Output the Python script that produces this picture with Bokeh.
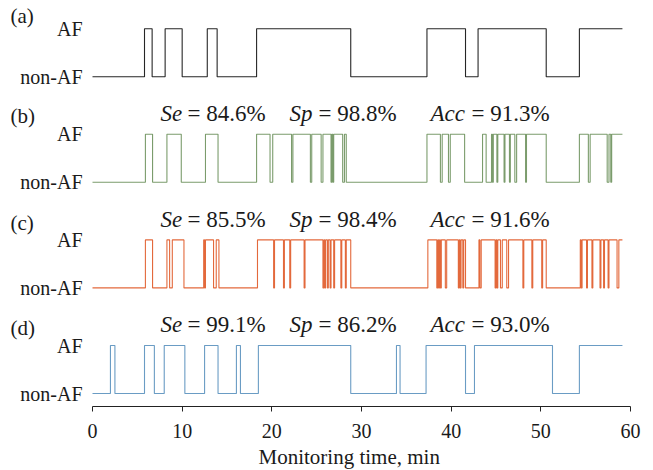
from bokeh.plotting import figure
from bokeh.models import Range1d, FixedTicker, ColumnDataSource, Title
from bokeh.core.properties import value
from bokeh.embed import file_html
from bokeh.resources import INLINE

# ---------------- data ----------------
end_time = 59.1
panel_names = ["(a)", "(b)", "(c)", "(d)"]
state_labels = ["non-AF", "AF"]
x_ticks = [0, 10, 20, 30, 40, 50, 60]
x_title = "Monitoring time, min"

# AF episodes (start, end) in minutes
af_a = [(5.8, 6.65), (8.1, 10.0), (12.8, 13.9), (18.3, 28.8), (37.3, 41.6),
        (43.0, 50.6), (54.3, 59.1)]
af_b = [(5.9, 6.7), (8.3, 9.9), (12.6, 14.0), (18.3, 19.8), (20.1, 22.2),
        (22.35, 24.3), (24.45, 25.5), (25.7, 26.6), (26.7, 26.8), (26.9, 27.9),
        (28.1, 28.3), (37.3, 38.8), (39.0, 39.7), (39.9, 41.5), (43.5, 43.9),
        (44.5, 44.6), (44.7, 45.1), (45.2, 45.9), (46.0, 46.5), (46.6, 47.1),
        (47.3, 48.3), (48.4, 50.6), (54.3, 55.3), (55.5, 57.4), (57.6, 57.8),
        (57.9, 59.1)]
af_c = [(5.9, 6.7), (8.3, 8.6), (8.9, 10.2), (12.4, 12.5), (12.6, 13.5),
        (13.8, 14.1), (18.4, 20.2), (20.3, 21.3), (21.4, 22.0), (22.1, 23.6),
        (23.7, 25.7), (25.8, 25.9), (26.0, 26.2), (26.3, 26.5), (26.6, 26.9),
        (27.0, 27.7), (27.8, 28.2), (28.3, 28.8), (37.4, 38.4), (38.5, 38.6),
        (38.7, 38.8), (38.9, 39.35), (39.5, 40.8), (40.9, 41.0), (41.1, 41.3),
        (41.4, 41.6), (43.1, 43.2), (43.35, 44.9), (45.0, 45.1), (45.2, 45.5),
        (45.7, 46.2), (46.4, 48.0), (48.1, 49.0), (49.1, 50.1), (50.2, 50.6),
        (54.4, 54.5), (54.6, 55.1), (55.2, 55.7), (55.8, 56.6), (56.7, 57.0),
        (57.1, 57.5), (57.6, 58.5), (58.7, 59.1)]
af_d = [(2.0, 2.5), (5.8, 6.9), (8.0, 10.3), (12.5, 14.0), (16.05, 16.5),
        (18.5, 28.8), (33.9, 34.3), (37.2, 41.6), (42.6, 51.3), (54.3, 59.1)]

se = [84.6, 85.5, 99.1]
sp = [98.8, 98.4, 86.2]
acc = [91.3, 91.6, 93.0]

# ---------------- style / layout ----------------
colors = ["#262626", "#7b9c6c", "#e3693c", "#6a9cc4"]
FONT = "Liberation Serif"
TXT = "#1a1a1a"
LEVEL = 10          # AF level above non-AF
STEP = 22           # vertical distance between panels
PX_PER_UNIT = 4.8
W, H = 653, 470
frame_left_px = 92
frame_right_px = 630
px_per_min = (frame_right_px - frame_left_px) / 60.0
x_start = -frame_left_px / px_per_min
frame_bottom_px = 406
y0 = -(frame_bottom_px - 393) / PX_PER_UNIT
y1 = y0 + frame_bottom_px / PX_PER_UNIT

p = figure(width=W, height=H, output_backend="svg", toolbar_location=None,
           x_range=Range1d(x_start, 60), y_range=Range1d(y0, y1),
           min_border_left=0, min_border_right=W - frame_right_px,
           min_border_top=0, min_border_bottom=H - frame_bottom_px)
p.outline_line_color = None
p.xgrid.visible = False
p.ygrid.visible = False
p.yaxis.visible = False
p.background_fill_color = "white"
p.border_fill_color = "white"


def step_xy(intervals, base):
    xs, ys = [0.0], [base]
    for s, e in intervals:
        xs += [s, s, e, e]
        ys += [base, base + LEVEL, base + LEVEL, base]
    if intervals and intervals[-1][1] >= end_time:
        xs = xs[:-1]
        ys = ys[:-1]
    else:
        xs.append(end_time)
        ys.append(base)
    return xs, ys


all_af = [af_a, af_b, af_c, af_d]
bases = [(3 - i) * STEP for i in range(4)]
for i, (ivs, base) in enumerate(zip(all_af, bases)):
    xs, ys = step_xy(ivs, base)
    p.line(xs, ys, line_color=colors[i], line_width=1.1)

# state labels (AF / non-AF) to the left of each trace
lab_x = -10 / px_per_min
st_src = ColumnDataSource(dict(
    x=[lab_x] * 8,
    y=[b + lv for b in bases for lv in (0, LEVEL)],
    t=[state_labels[k] for _ in bases for k in (0, 1)]))
p.text("x", "y", text="t", source=st_src, text_font=value(FONT),
       text_font_size="20px", text_align="right", text_baseline="middle",
       text_color=TXT)

# panel letters
panel_dy = [2.75, 3.9, 3.6, 3.75]
pl_x = (10 - frame_left_px) / px_per_min
p.text([pl_x] * 4, [bases[i] + LEVEL + panel_dy[i] for i in range(4)],
       text=panel_names, text_font=value(FONT), text_font_size="21px",
       text_align="left", text_baseline="middle", text_color=TXT)

# metrics
metric_x = [(160 - frame_left_px) / px_per_min,
            (289 - frame_left_px) / px_per_min,
            (430 - frame_left_px) / px_per_min]
metric_off = [27, 29, 41]
names = ["Se", "Sp", "Acc"]
for j in range(3):
    yy = bases[j + 1] + LEVEL + 4.3
    vals = [se[j], sp[j], acc[j]]
    p.text(metric_x, [yy] * 3, text=names, text_font=value(FONT),
           text_font_size="23px", text_font_style="italic",
           text_baseline="middle", text_color=TXT)
    p.text(metric_x, [yy] * 3, text=[f"= {v:.1f}%" for v in vals],
           x_offset=metric_off, text_font=value(FONT),
           text_font_size="23px", text_baseline="middle", text_color=TXT)

# x axis
p.xaxis.bounds = (0, 60)
p.xaxis.ticker = FixedTicker(ticks=x_ticks)
p.xaxis.minor_tick_line_color = None
p.xaxis.major_tick_in = 0
p.xaxis.major_tick_out = 5
p.xaxis.axis_line_color = "#222222"
p.xaxis.major_tick_line_color = "#222222"
p.xaxis.major_label_standoff = 12
p.xaxis.major_label_text_font = FONT
p.xaxis.major_label_text_font_size = "20px"
p.xaxis.major_label_text_color = TXT

# axis title: starts at x = 258 px, as in the reference
title_left_px = 258
p.add_layout(Title(text=x_title, align="left", offset=title_left_px,
                   text_font=FONT, text_font_size="21px",
                   text_font_style="normal", text_color=TXT, standoff=4),
             "below")

open("out.html", "w").write(file_html(p, INLINE))
